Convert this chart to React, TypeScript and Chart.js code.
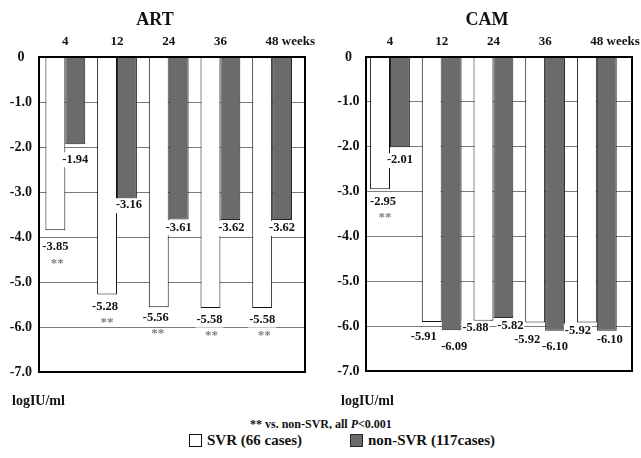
import React, { useEffect, useRef } from 'react';
import { Chart, registerables } from 'chart.js';

Chart.register(...registerables);

// ---- data ----
const weeks = ['4', '12', '24', '36', '48'];
const artSvr = [-3.85, -5.28, -5.56, -5.58, -5.58];
const artNon = [-1.94, -3.16, -3.61, -3.62, -3.62];
const camSvr = [-2.95, -5.91, -5.88, -5.92, -5.92];
const camNon = [-2.01, -6.09, -5.82, -6.1, -6.1];
const artSig = [true, true, true, true, true];
const camSig = [true, false, false, false, false];
const seriesNames = ['SVR (66 cases)', 'non-SVR (117cases)'];

// ---- layout (label nudges, px) ----
const artSvrDx = [0, -2, -3, -1, 0];
const artSvrDy = [17, 12, 10.5, 11.5, 11.5];
const artNonDx = [0, 2, 0, 1, 0];
const artNonDy = [15, 6, 8, 8, 8];
const camSvrDx = [3, -8, -8, -8, -9];
const camSvrDy = [12.5, 14.6, 7, 17.4, 8];
const camNonDx = [0, 2.5, 7, 0, 3];
const camNonDy = [13, 16.7, 8, 16, 9.5];

const SERIF = '"Liberation Serif", "Times New Roman", serif';
const GRAY = '#6b6b6b';
const GRAY_EDGE = '#262626';

type PanelCfg = {
  title: string;
  svr: number[];
  non: number[];
  sig: boolean[];
  svrDx: number[];
  svrDy: number[];
  nonDx: number[];
  nonDy: number[];
  width: number;
  padTop: number;
  padRight: number;
  padBottom: number;
  yWidth: number;
  tickPad: number;
  xmin: number;
  xmax: number;
  titleX: number;
  unitX: number;
};

function makeConfig(p: PanelCfg): any {
  const labelsPlugin = {
    id: 'valueLabels',
    afterDatasetsDraw(chart: any) {
      const ctx = chart.ctx;
      ctx.save();
      const sets = [
        { vals: p.svr, dx: p.svrDx, dy: p.svrDy, sig: p.sig },
        { vals: p.non, dx: p.nonDx, dy: p.nonDy, sig: null as boolean[] | null },
      ];
      sets.forEach((s, di) => {
        const meta = chart.getDatasetMeta(di);
        meta.data.forEach((bar: any, i: number) => {
          const txt = s.vals[i].toFixed(2);
          const x = bar.x + s.dx[i];
          const y = bar.y + s.dy[i];
          ctx.font = `bold 12.5px ${SERIF}`;
          const w = ctx.measureText(txt).width;
          ctx.fillStyle = '#fff';
          ctx.fillRect(x - w / 2 - 1, y - 7, w + 2, 15);
          ctx.fillStyle = '#111';
          ctx.textAlign = 'center';
          ctx.textBaseline = 'middle';
          ctx.fillText(txt, x, y);
          if (s.sig && s.sig[i]) {
            ctx.font = `bold 13px ${SERIF}`;
            ctx.fillStyle = '#808080';
            ctx.fillText('**', x + 2, y + 16);
          }
        });
      });
      ctx.restore();
    },
  };

  const framePlugin = {
    id: 'frameAndTexts',
    afterDraw(chart: any) {
      const ctx = chart.ctx;
      const a = chart.chartArea;
      ctx.save();
      ctx.strokeStyle = '#000';
      ctx.lineWidth = 2;
      ctx.strokeRect(a.left, a.top, a.right - a.left, a.bottom - a.top);

      ctx.fillStyle = '#111';
      ctx.textBaseline = 'middle';
      ctx.textAlign = 'center';
      ctx.font = `bold 18px ${SERIF}`;
      ctx.fillText(p.title, p.titleX, 20);

      const xs = chart.scales.x;
      ctx.font = `bold 13px ${SERIF}`;
      weeks.forEach((wk, i) => {
        const x = xs.getPixelForValue(i);
        ctx.textAlign = 'center';
        ctx.fillText(wk, x, 42);
        if (i === weeks.length - 1) {
          const w = ctx.measureText(wk).width;
          ctx.textAlign = 'left';
          ctx.fillText(' weeks', x + w / 2, 42);
        }
      });

      ctx.textAlign = 'left';
      ctx.font = `bold 14px ${SERIF}`;
      ctx.fillText('logIU/ml', p.unitX, 401);
      ctx.restore();
    },
  };

  return {
    type: 'bar',
    data: {
      datasets: [
        {
          label: seriesNames[0],
          data: p.svr.map((v, i) => ({ x: i, y: v })),
          backgroundColor: '#ffffff',
          borderColor: '#111111',
          borderWidth: 1,
          categoryPercentage: 0.77,
          barPercentage: 1,
        },
        {
          label: seriesNames[1],
          data: p.non.map((v, i) => ({ x: i, y: v })),
          backgroundColor: GRAY,
          borderColor: GRAY_EDGE,
          borderWidth: 1,
          categoryPercentage: 0.77,
          barPercentage: 1,
        },
      ],
    },
    options: {
      animation: false,
      responsive: false,
      maintainAspectRatio: false,
      layout: { padding: { top: p.padTop, right: p.padRight, bottom: p.padBottom, left: 0 } },
      plugins: { legend: { display: false }, tooltip: { enabled: false }, title: { display: false } },
      scales: {
        x: {
          type: 'linear',
          min: p.xmin,
          max: p.xmax,
          offset: false,
          display: false,
          grid: { display: false },
        },
        y: {
          min: -7,
          max: 0,
          ticks: {
            stepSize: 1,
            padding: p.tickPad,
            crossAlign: 'center',
            color: '#111',
            font: { family: SERIF, size: 14, weight: 'bold' },
            callback: (v: any) => (Number(v) === 0 ? '0' : Number(v).toFixed(1)),
          },
          grid: { color: '#7a7a7a', lineWidth: 1, drawTicks: false },
          border: { display: false },
          afterFit: (s: any) => {
            s.width = p.yWidth;
          },
        },
      },
    },
    plugins: [labelsPlugin, framePlugin],
  };
}

const artCfg: PanelCfg = {
  title: 'ART',
  svr: artSvr,
  non: artNon,
  sig: artSig,
  svrDx: artSvrDx,
  svrDy: artSvrDy,
  nonDx: artNonDx,
  nonDy: artNonDy,
  width: 320,
  padTop: 57,
  padRight: 15,
  padBottom: 38,
  yWidth: 39,
  tickPad: 7,
  xmin: -0.509,
  xmax: 4.636,
  titleX: 155,
  unitX: 12,
};

const camCfg: PanelCfg = {
  title: 'CAM',
  svr: camSvr,
  non: camNon,
  sig: camSig,
  svrDx: camSvrDx,
  svrDy: camSvrDy,
  nonDx: camNonDx,
  nonDy: camNonDy,
  width: 321,
  padTop: 57,
  padRight: 9,
  padBottom: 39,
  yWidth: 46,
  tickPad: 6.5,
  xmin: -0.464,
  xmax: 4.68,
  titleX: 167,
  unitX: 21,
};

function Panel({ cfg, left }: { cfg: PanelCfg; left: number }) {
  const ref = useRef<HTMLCanvasElement | null>(null);
  useEffect(() => {
    if (!ref.current) return;
    const chart = new Chart(ref.current, makeConfig(cfg));
    return () => chart.destroy();
  }, []);
  return (
    <canvas
      ref={ref}
      width={cfg.width}
      height={410}
      style={{ position: 'absolute', left, top: 0, width: cfg.width, height: 410 }}
    />
  );
}

export default function App() {
  return (
    <div
      style={{
        position: 'fixed',
        left: 0,
        top: 0,
        width: 641,
        height: 458,
        background: '#fff',
        fontFamily: SERIF,
        color: '#111',
        overflow: 'hidden',
      }}
    >
      <Panel cfg={artCfg} left={0} />
      <Panel cfg={camCfg} left={320} />
      <div
        style={{
          position: 'absolute',
          left: 250,
          top: 416,
          fontSize: 12,
          fontWeight: 'bold',
          lineHeight: '16px',
          whiteSpace: 'nowrap',
        }}
      >
        ** vs. non-SVR, all <i>P</i>&lt;0.001
      </div>
      <div
        style={{
          position: 'absolute',
          left: 189,
          top: 434,
          width: 11,
          height: 11,
          border: '1px solid #111',
          background: '#fff',
        }}
      />
      <div
        style={{
          position: 'absolute',
          left: 207,
          top: 431,
          fontSize: 15,
          fontWeight: 'bold',
          lineHeight: '18px',
          whiteSpace: 'nowrap',
        }}
      >
        {seriesNames[0]}
      </div>
      <div
        style={{
          position: 'absolute',
          left: 350,
          top: 434,
          width: 11,
          height: 11,
          border: `1px solid ${GRAY_EDGE}`,
          background: GRAY,
        }}
      />
      <div
        style={{
          position: 'absolute',
          left: 368,
          top: 431,
          fontSize: 15,
          fontWeight: 'bold',
          lineHeight: '18px',
          whiteSpace: 'nowrap',
        }}
      >
        {seriesNames[1]}
      </div>
    </div>
  );
}
